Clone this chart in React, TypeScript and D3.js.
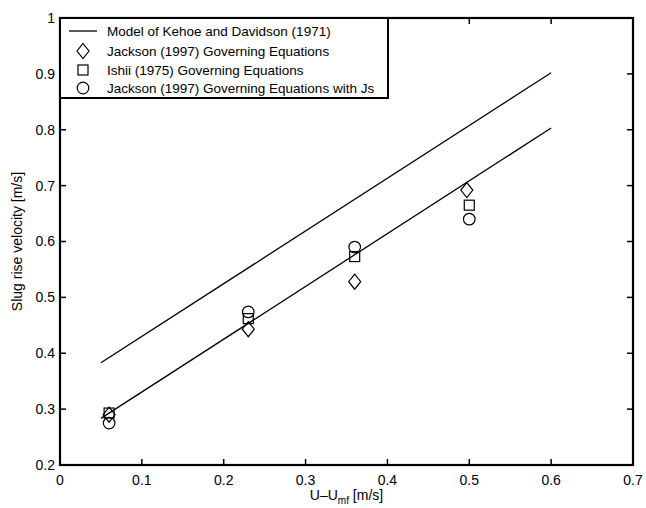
import React from "react";
import * as d3 from "d3";

const xTicks = [0, 0.1, 0.2, 0.3, 0.4, 0.5, 0.6, 0.7];
const yTicks = [0.2, 0.3, 0.4, 0.5, 0.6, 0.7, 0.8, 0.9, 1];
const yTickLabels = ["0.2", "0.3", "0.4", "0.5", "0.6", "0.7", "0.8", "0.9", "1"];
const xTickLabels = ["0", "0.1", "0.2", "0.3", "0.4", "0.5", "0.6", "0.7"];

const modelUpperX = [0.05, 0.6];
const modelUpperY = [0.383, 0.902];
const modelLowerX = [0.05, 0.6];
const modelLowerY = [0.2835, 0.803];

const pointX = [0.06, 0.23, 0.36, 0.5];
const jacksonDiamondX = [0.06, 0.23, 0.36, 0.497];
const jacksonDiamond = [0.29, 0.443, 0.528, 0.692];
const ishiiSquare = [0.293, 0.462, 0.573, 0.665];
const jacksonJsCircle = [0.275, 0.474, 0.59, 0.64];

const legendLabels = [
  "Model of Kehoe and Davidson (1971)",
  "Jackson (1997) Governing Equations",
  "Ishii (1975) Governing Equations",
  "Jackson (1997) Governing Equations with Js",
];

const W = 646;
const H = 508;
const left = 60;
const right = 633;
const top = 18;
const bottom = 465;
const font = "'Liberation Sans', Arial, Helvetica, sans-serif";

function Diamond({ cx, cy }: { cx: number; cy: number }) {
  const hw = 6, hh = 7.5;
  return (
    <path
      d={`M${cx},${cy - hh}L${cx + hw},${cy}L${cx},${cy + hh}L${cx - hw},${cy}Z`}
      fill="none"
      stroke="#000"
      strokeWidth={1.2}
    />
  );
}
function Square({ cx, cy }: { cx: number; cy: number }) {
  const s = 10;
  return <rect x={cx - s / 2} y={cy - s / 2} width={s} height={s} fill="none" stroke="#000" strokeWidth={1.2} />;
}
function Circle({ cx, cy }: { cx: number; cy: number }) {
  return <circle cx={cx} cy={cy} r={5.8} fill="none" stroke="#000" strokeWidth={1.2} />;
}

export default function App() {
  const x = d3.scaleLinear().domain([0, 0.7]).range([left, right]);
  const y = d3.scaleLinear().domain([0.2, 1]).range([bottom, top]);
  const line = d3
    .line<[number, number]>()
    .x((d) => x(d[0]))
    .y((d) => y(d[1]));

  const upper = modelUpperX.map((v, i) => [v, modelUpperY[i]] as [number, number]);
  const lower = modelLowerX.map((v, i) => [v, modelLowerY[i]] as [number, number]);

  const tickLen = 6;
  const legX = left;
  const legY = top;
  const legW = 328;
  const legH = 80;
  const rowY = [31, 51, 70, 88];

  return (
    <svg
      width={W}
      height={H}
      style={{ position: "absolute", left: 0, top: 0, background: "#fff" }}
      fontFamily={font}
    >
      <rect x={0} y={0} width={W} height={H} fill="#fff" />
      {/* model lines */}
      <path d={line(upper) || ""} fill="none" stroke="#000" strokeWidth={1.3} />
      <path d={line(lower) || ""} fill="none" stroke="#000" strokeWidth={1.3} />

      {/* markers */}
      {jacksonDiamond.map((v, i) => (
        <Diamond key={"d" + i} cx={x(jacksonDiamondX[i])} cy={y(v)} />
      ))}
      {ishiiSquare.map((v, i) => (
        <Square key={"s" + i} cx={x(pointX[i])} cy={y(v)} />
      ))}
      {jacksonJsCircle.map((v, i) => (
        <Circle key={"c" + i} cx={x(pointX[i])} cy={y(v)} />
      ))}

      {/* ticks */}
      {yTicks.map((t, i) => (
        <g key={"yt" + i}>
          <line x1={left} x2={left + tickLen} y1={y(t)} y2={y(t)} stroke="#000" strokeWidth={1.5} />
          <line x1={right} x2={right - tickLen} y1={y(t)} y2={y(t)} stroke="#000" strokeWidth={1.5} />
          <text x={55} y={y(t)} dy="0.35em" textAnchor="end" fontSize={14}>
            {yTickLabels[i]}
          </text>
        </g>
      ))}
      {xTicks.map((t, i) => (
        <g key={"xt" + i}>
          <line x1={x(t)} x2={x(t)} y1={bottom} y2={bottom - tickLen} stroke="#000" strokeWidth={1.5} />
          <line x1={x(t)} x2={x(t)} y1={top} y2={top + tickLen} stroke="#000" strokeWidth={1.5} />
          <text x={x(t)} y={485} textAnchor="middle" fontSize={14}>
            {xTickLabels[i]}
          </text>
        </g>
      ))}

      {/* axes box */}
      <rect x={left} y={top} width={right - left} height={bottom - top} fill="none" stroke="#000" strokeWidth={2.2} />

      {/* legend */}
      <rect x={legX} y={legY} width={legW} height={legH} fill="#fff" stroke="#000" strokeWidth={2} />
      <line x1={69} x2={97} y1={rowY[0]} y2={rowY[0]} stroke="#000" strokeWidth={1.3} />
      <Diamond cx={83} cy={rowY[1]} />
      <Square cx={83} cy={rowY[2]} />
      <Circle cx={83} cy={rowY[3]} />
      {legendLabels.map((l, i) => (
        <text key={"l" + i} x={107} y={rowY[i]} dy="0.35em" fontSize={13.5}>
          {l}
        </text>
      ))}

      {/* axis titles */}
      <text x={(left + right) / 2} y={500} textAnchor="middle" fontSize={14}>
        U–U
        <tspan fontSize={10} dy={4}>mf</tspan>
        <tspan dy={-4}>{"  [m/s]"}</tspan>
      </text>
      <text
        transform={`translate(22,${(top + bottom) / 2}) rotate(-90)`}
        textAnchor="middle"
        fontSize={14}
      >
        Slug rise velocity [m/s]
      </text>
    </svg>
  );
}
